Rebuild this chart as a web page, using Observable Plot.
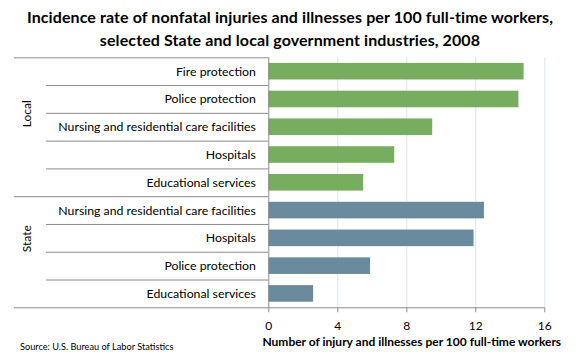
<!DOCTYPE html>
<html>
<head>
<meta charset="utf-8">
<script src="https://cdn.jsdelivr.net/npm/d3@7"></script>
<script src="https://cdn.jsdelivr.net/npm/@observablehq/plot@0.6"></script>
<style>
  html, body { margin: 0; padding: 0; background: #fff; }
  #wrap { position: relative; width: 580px; height: 360px; overflow: hidden; font-family: Lato, "Open Sans", sans-serif; }
  #title { height: 52px; text-align: center; font-weight: bold; font-size: 16px; letter-spacing: 0.1px; line-height: 23px; padding-top: 5px; box-sizing: border-box; color: #000; white-space: nowrap; }
  #source { position: absolute; left: 20px; top: 341px; font-size: 9.2px; color: #000; }
  svg { display: block; }
</style>
</head>
<body>
<div id="wrap">
  <div id="title">Incidence rate of nonfatal injuries and illnesses per 100 full-time workers,<br>selected State and local government industries, 2008</div>
  <div id="chart"></div>
  <div id="source">Source: U.S. Bureau of Labor Statistics</div>
</div>
<script>
const groupNames = ["Local", "State"];
const localIndustries = ["Fire protection", "Police protection", "Nursing and residential care facilities", "Hospitals", "Educational services"];
const localRates = [14.8, 14.5, 9.5, 7.3, 5.5];
const stateIndustries = ["Nursing and residential care facilities", "Hospitals", "Police protection", "Educational services"];
const stateRates = [12.5, 11.9, 5.9, 2.6];
const xTicks = [0, 4, 8, 12, 16];
const xTitle = "Number of injury and illnesses per 100 full-time workers";

const colors = {Local: "#77ad5f", State: "#6a8a9e"};

const rows = [];
localIndustries.forEach((d, i) => rows.push({group: "Local", industry: d, rate: localRates[i]}));
stateIndustries.forEach((d, i) => rows.push({group: "State", industry: d, rate: stateRates[i]}));
rows.forEach((r, i) => { r.i = i; });

const groupInfo = groupNames.map(g => {
  const rs = rows.filter(r => r.group === g);
  return {group: g, start: rs[0].i, end: rs[rs.length - 1].i + 1};
});
const boundaries = d3.range(rows.length + 1);
const longLines = [0, ...groupInfo.map(g => g.end)];
const shortLines = boundaries.filter(b => !longLines.includes(b));

const W = 580, H = 308;
const mL = 268.3, mR = 35.7, mT = 5.3, mB = 52.7;
const plotW = W - mL - mR;

const chart = Plot.plot({
  width: W,
  height: H,
  marginLeft: mL,
  marginRight: mR,
  marginTop: mT,
  marginBottom: mB,
  style: {fontFamily: "Lato, 'Open Sans', sans-serif", fontSize: "12px", color: "#000", background: "#fff"},
  x: {domain: [0, 16], ticks: xTicks},
  y: {domain: [0, rows.length], reverse: true, axis: null},
  marks: [
    Plot.ruleX(xTicks.filter(t => t > 0), {stroke: "#d9e3f1", strokeWidth: 1}),
    Plot.rectX(rows, {x1: 0, x2: "rate", y1: "i", y2: d => d.i + 1, fill: d => colors[d.group], insetTop: 5.6, insetBottom: 5.6}),
    Plot.ruleY(shortLines, {stroke: "#8c8c8c", insetLeft: -(mL - 46), insetRight: plotW}),
    Plot.ruleY(longLines.filter(b => b !== rows.length), {stroke: "#8c8c8c", insetLeft: -(mL - 14), insetRight: plotW}),
    Plot.ruleY([rows.length], {stroke: "#8c8c8c", insetLeft: -(mL - 14)}),
    Plot.ruleX([0], {stroke: "#8c8c8c"}),
    Plot.axisX({ticks: xTicks, tickSize: 5, tickPadding: 9, stroke: "#8c8c8c", fill: "#000", fontSize: 12, label: null}),
    Plot.text(rows, {y: d => d.i + 0.5, text: "industry", frameAnchor: "left", textAnchor: "end", dx: -13, fontSize: 12.3, fill: "#000"}),
    Plot.text(groupInfo, {y: d => (d.start + d.end) / 2, text: "group", frameAnchor: "left", dx: -(mL - 27), rotate: -90, fontSize: 12, fill: "#000"}),
    Plot.text([xTitle], {frameAnchor: "bottom", dy: 38, dx: 5, fontWeight: "bold", fontSize: 12, fill: "#000"})
  ]
});
document.getElementById("chart").appendChild(chart);
</script>
</body>
</html>
